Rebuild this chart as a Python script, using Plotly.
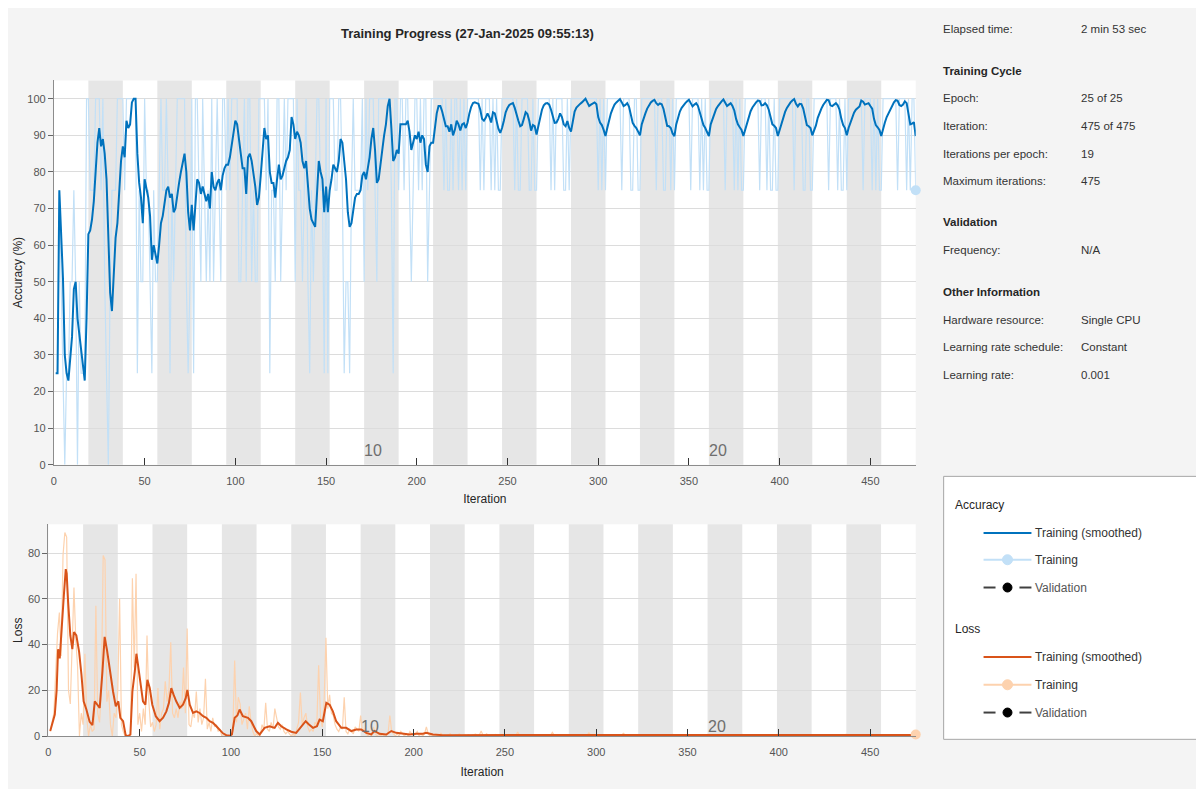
import plotly.graph_objects as go

# ---------------- data ----------------
ITER_PER_EPOCH = 19
N_EPOCHS = 25
iterations = list(range(1, ITER_PER_EPOCH * N_EPOCHS + 1))

acc_raw = [
    25, 25, 75, 50, 25, 0, 25, 25, 50, 50, 75, 50, 0, 50, 25, 25, 25, 100, 100,
    75, 75, 75, 100, 100, 100, 75, 100, 50, 25, 0, 50, 75, 75, 75, 100, 100, 100, 100,
    75, 100, 100, 100, 100, 100, 100, 25, 75, 50, 50, 100, 75, 75, 50, 25, 75, 50, 50,
    75, 100, 75, 75, 100, 75, 25, 75, 50, 75, 100, 100, 100, 100, 100, 50, 25, 50, 100,
    25, 100, 100, 75, 50, 100, 75, 50, 75, 50, 100, 50, 75, 100, 75, 50, 100, 100, 75,
    100, 75, 100, 100, 100, 100, 50, 50, 75, 100, 50, 100, 100, 50, 75, 50, 50, 100, 100,
    100, 100, 75, 100, 25, 75, 75, 50, 100, 100, 50, 75, 100, 75, 100, 100, 100, 100, 50,
    100, 75, 75, 50, 75, 100, 50, 25, 75, 50, 75, 100, 100, 75, 75, 25, 100, 25, 100,
    100, 100, 75, 75, 100, 100, 75, 25, 50, 50, 25, 75, 100, 75, 75, 75, 75, 100, 50,
    100, 75, 100, 100, 100, 75, 50, 100, 100, 100, 100, 100, 100, 100, 75, 25, 100, 100, 75,
    100, 100, 75, 100, 100, 75, 50, 75, 100, 100, 75, 100, 75, 100, 100, 50, 75, 100, 100,
    100, 100, 100, 100, 100, 75, 100, 75, 75, 100, 75, 100, 100, 75, 100, 75, 100, 75, 100,
    100, 100, 100, 100, 100, 100, 75, 100, 75, 100, 100, 100, 75, 100, 75, 100, 75, 75, 100,
    100, 100, 100, 100, 100, 100, 75, 100, 75, 75, 100, 100, 100, 100, 75, 75, 100, 75, 75,
    100, 100, 100, 100, 100, 100, 100, 75, 100, 75, 100, 100, 100, 100, 75, 75, 100, 75, 100,
    100, 100, 100, 100, 100, 100, 100, 100, 100, 100, 100, 100, 100, 100, 75, 100, 75, 100, 75,
    100, 100, 100, 100, 100, 100, 100, 100, 75, 100, 100, 100, 100, 75, 75, 100, 100, 75, 75,
    100, 100, 100, 100, 100, 100, 100, 100, 75, 100, 100, 100, 75, 75, 100, 100, 75, 100, 75,
    100, 100, 100, 100, 100, 100, 100, 100, 75, 100, 100, 100, 100, 75, 100, 75, 100, 75, 75,
    100, 100, 100, 100, 100, 100, 100, 100, 75, 100, 100, 100, 100, 75, 100, 75, 100, 75, 75,
    100, 100, 100, 100, 100, 100, 100, 100, 75, 100, 100, 100, 75, 100, 75, 75, 100, 75, 75,
    100, 100, 100, 100, 100, 100, 100, 100, 75, 100, 100, 100, 100, 75, 75, 100, 100, 75, 75,
    100, 100, 100, 100, 100, 100, 100, 100, 75, 100, 100, 100, 100, 75, 100, 75, 75, 100, 75,
    100, 100, 100, 100, 100, 100, 100, 100, 75, 100, 100, 100, 100, 75, 100, 75, 100, 75, 75,
    100, 100, 100, 100, 100, 100, 100, 100, 75, 100, 100, 100, 100, 75, 100, 75, 100, 100, 75,
]

acc_smooth = [
    25, 25, 75, 65, 51, 30, 25, 23, 28, 35, 48, 50, 40, 36, 31, 27, 23, 40, 63,
    64, 67, 72, 80, 88, 92, 87, 89, 85, 78, 65, 47, 42, 52, 62, 66, 74, 83, 87,
    84, 94, 92, 93, 99, 100, 100, 85, 77, 73, 66, 78, 75, 73, 68, 56, 60, 57, 55,
    60, 66, 68, 71, 75, 76, 73, 74, 69, 70, 74, 77, 80, 83, 85, 80, 69, 64, 71,
    64, 72, 78, 77, 74, 76, 74, 72, 74, 70, 80, 76, 75, 77, 78, 75, 79, 81, 82,
    82, 84, 87, 91, 94, 93, 89, 84, 81, 81, 74, 84, 85, 83, 80, 76, 71, 73, 79,
    86, 92, 89, 90, 80, 77, 77, 73, 78, 82, 78, 79, 81, 83, 84, 86, 95, 93, 89,
    91, 90, 88, 83, 81, 83, 77, 70, 67, 66, 65, 74, 83, 80, 78, 69, 76, 69, 75,
    78, 82, 81, 80, 83, 89, 88, 83, 78, 69, 65, 66, 70, 73, 74, 74, 75, 79, 80,
    78, 81, 84, 89, 92, 86, 77, 78, 83, 86, 90, 93, 98, 100, 92, 83, 84, 86, 85,
    93, 93, 93, 93, 94, 91, 86, 88, 90, 89, 91, 88, 90, 89, 82, 80, 87, 88, 88,
    92, 96, 98, 98, 96.5, 94.5, 92.5, 92.5, 91, 93, 90, 91.5, 94, 93, 91.3, 93, 93.3, 92, 93.5,
    96, 97.8, 98.8, 99, 98.8, 98.6, 97, 94.5, 94, 94.8, 96, 95, 93.5, 96.3, 96, 93.5, 91.8, 90.7, 92,
    94, 96.3, 97.5, 98.3, 98.6, 98.8, 97.5, 95.5, 94, 92.5, 92.8, 94.5, 96.3, 95.8, 94, 91.3, 92.8, 92.5, 90.2,
    92.5, 95, 97, 98.2, 98.7, 98.8, 98.4, 97, 95.2, 93.4, 93.5, 94.5, 96, 95, 93, 92.5, 93.9, 92, 91,
    94, 96.5, 97.6, 98.2, 98.6, 99, 99.5, 100, 99, 98, 98.4, 98.8, 99, 98.5, 95, 93.5, 92.8, 91.5, 89.8,
    92, 94.5, 96, 97.3, 98.4, 99, 99.4, 99.9, 99, 98, 98.3, 98.8, 97.8, 95.5, 93.4, 92.6, 92, 91, 90,
    93, 94.8, 96, 97.3, 98.4, 99, 99.4, 99.7, 98.8, 98.3, 98.7, 98.5, 97.2, 95, 92.6, 92.5, 92, 90.5, 89.8,
    93, 95, 96.5, 97.5, 98.3, 98.8, 99.3, 99.7, 98.8, 97.9, 98.4, 98.8, 98, 96, 94, 92.8, 92, 91, 89.8,
    93, 94.5, 96, 97.2, 98, 98.8, 99.3, 99.8, 99, 98, 98.4, 98.8, 98, 96.8, 94.5, 93, 92.2, 91.5, 89.8,
    91.5, 93.5, 95.5, 96.6, 97.6, 98.5, 99, 99.5, 99.4, 98.2, 98.3, 98.8, 98.2, 97, 95, 93, 92.6, 92, 89.8,
    91.5, 93, 95, 96.4, 97.5, 98.4, 99, 99.5, 99.9, 98.6, 97.9, 98.6, 98.5, 97.3, 95, 92.8, 92.5, 92, 90,
    91.3, 92.7, 94.8, 96.2, 97.3, 98.3, 99, 99.7, 99.6, 98.2, 98, 98.4, 98.8, 98.2, 97, 94.5, 92.8, 92, 90,
    92, 93.4, 95, 96.2, 97, 97.5, 97.9, 99.5, 99.2, 98.4, 98.6, 98.8, 98, 97.3, 94.5, 92.8, 92.2, 91.5, 89.8,
    92, 93.5, 95, 96.1, 97.3, 98.4, 99, 99.6, 99.5, 98.3, 98, 98.4, 99.3, 98.8, 96, 93, 93.2, 93.6, 89.8,
]

loss_raw = [
    2, 6, 10, 28, 45, 54, 35, 79, 89, 87, 20, 14, 40, 65, 42, 30, 0, 10, 5,
    36, 8, 0, 5, 2, 3, 57, 10, 6, 20, 79, 77, 15, 20, 5, 0, 10, 8, 20,
    60, 5, 2, 0, 0, 0, 0, 69, 30, 71, 5, 10, 2, 12, 5, 44, 15, 4, 6,
    2, 5, 21, 3, 10, 12, 24, 15, 20, 41, 10, 8, 12, 8, 15, 12, 30, 10, 47,
    5, 4, 10, 8, 19.5, 6, 12, 5, 8, 25, 3, 6, 2, 8, 4, 5, 2, 3, 0,
    0, 0, 0, 0, 1, 2, 33, 6, 17, 14, 5, 8, 10, 3, 13, 6, 2, 0, 1,
    0, 0, 5, 3, 14.5, 3, 2, 6, 3, 12, 8, 4, 3, 5, 2, 1, 2, 1, 0,
    1, 0, 3, 6, 19, 5, 8, 10, 4, 2, 3, 2, 6, 5, 31, 8, 4, 15, 43,
    12, 18, 10, 9, 5, 3, 2, 4, 3, 17, 2, 1, 3, 2, 1, 4, 3, 2, 9,
    2, 3, 1, 0, 1, 0, 4, 1, 0, 1, 0, 1, 0, 0, 1, 9, 2, 1, 0,
    1, 0, 2, 1, 0, 1, 0, 2, 1, 0, 1, 2, 0, 1, 0, 1, 4, 1, 0,
    0.5, 0.3, 0.8, 0.2, 0.4, 1.2, 0.3, 0.6, 0.2, 0.5, 1.0, 0.3, 0.2, 0.6, 0.4, 0.9, 0.3, 0.2, 0.5,
    0.3, 0.6, 0.2, 0.4, 0.3, 0.8, 0.2, 0.5, 2.2, 0.4, 0.3, 1.0, 0.2, 0.4, 0.6, 0.3, 0.7, 0.2, 0.4,
    0.5, 0.2, 0.3, 0.6, 0.2, 0.4, 0.3, 0.5, 0.2, 1.8, 0.3, 0.4, 0.2, 0.6, 0.3, 0.2, 0.5, 0.3, 0.4,
    0.2, 0.3, 0.5, 0.2, 0.4, 0.3, 0.6, 0.2, 0.3, 1.6, 0.4, 0.2, 0.5, 0.3, 0.2, 0.4, 0.6, 0.3, 0.2,
    0.4, 0.2, 0.3, 0.5, 0.2, 0.3, 0.4, 0.2, 0.6, 0.3, 1.4, 0.2, 0.4, 0.3, 0.5, 0.2, 0.3, 0.6, 0.4,
    0.2, 0.3, 0.4, 0.2, 0.5, 0.3, 0.2, 0.4, 0.3, 0.6, 1.2, 0.3, 0.2, 0.4, 0.5, 0.3, 0.2, 0.4, 0.6,
    0.3, 0.2, 0.4, 0.3, 0.2, 0.5, 0.3, 0.2, 0.4, 0.3, 0.2, 0.5, 0.4, 0.3, 0.6, 0.2, 0.4, 0.5, 0.7,
    0.3, 0.2, 0.4, 0.3, 0.2, 0.3, 0.4, 0.2, 0.3, 0.5, 0.3, 0.2, 0.4, 0.3, 0.6, 0.5, 0.3, 0.4, 0.7,
    0.3, 0.2, 0.3, 0.2, 0.4, 0.2, 0.3, 0.2, 0.3, 0.4, 0.3, 0.2, 0.4, 0.3, 0.5, 0.6, 0.3, 0.5, 0.7,
    0.3, 0.2, 0.3, 0.2, 0.3, 0.2, 0.2, 0.3, 0.4, 0.2, 0.3, 0.4, 0.3, 0.5, 0.4, 0.6, 0.4, 0.5, 0.7,
    0.2, 0.3, 0.2, 0.2, 0.3, 0.2, 0.2, 0.3, 0.3, 0.4, 0.3, 0.2, 0.4, 0.5, 0.6, 0.3, 0.5, 0.6, 0.6,
    0.3, 0.2, 0.2, 0.3, 0.2, 0.2, 0.3, 0.2, 0.4, 0.3, 0.3, 0.4, 0.3, 0.5, 0.5, 0.4, 0.6, 0.5, 0.7,
    0.2, 0.3, 0.2, 0.2, 0.2, 0.3, 0.2, 0.3, 0.3, 0.4, 0.2, 0.3, 0.5, 0.4, 0.6, 0.5, 0.4, 0.6, 0.6,
    0.3, 0.2, 0.3, 0.2, 0.2, 0.3, 0.2, 0.2, 0.3, 0.3, 0.4, 0.3, 0.4, 0.5, 0.4, 0.6, 0.5, 0.6, 0.7,
]

loss_smooth_iter = [
    1, 2, 3.5, 4.5, 5.3, 6.2, 7, 7.7, 8.5, 9.5, 10, 10.8, 12, 13.1, 14, 15.3, 16.8, 18.1, 19.3, 20.8,
    22.6, 24.1, 25.4, 26.8, 28.1, 29.6, 30.8, 32.1, 33.6, 35.4, 36.9, 38.3, 39.4, 40.9, 42.3, 43.6, 44.9, 46, 47.3, 48.2,
    49.1, 50.4, 51.8, 53.1, 54.2, 55.5, 56.9, 58.8, 60.9, 62.8, 64.6, 66, 67.3, 68.6, 70, 71.9, 73.7, 75.2, 76.1, 77.4,
    79.2, 81, 82.8, 84.7, 86.5, 88.3, 90.1, 92, 93.8, 95.6, 97.4, 99.3, 100.5, 102, 103.5, 104.7, 106.5, 109.3, 111.1, 113.8,
    115.7, 118.4, 121.1, 123.9, 125.7, 127.5, 130.3, 133, 135.7, 138.5, 140.9, 142.7, 144.9, 147.1, 148.5, 150.3, 152.2, 154, 155.8, 157.6,
    160.4, 163.1, 165.9, 168.6, 171.3, 174.1, 176.8, 178.6, 181.4, 185, 187.8, 190.5, 194.1, 197.8, 201.4, 205.1, 206.9, 210.6, 216, 221.5,
    230, 238, 245, 252, 259, 266, 272, 278, 285, 292, 298, 305, 312, 317, 325, 335, 342, 350, 361, 370,
    380, 390, 399, 410, 418, 428, 437, 446, 456, 465, 475,
]
loss_smooth_val = [
    2.2, 5, 9.4, 20, 38, 34, 45, 54, 62, 73, 71, 58.6, 44, 38, 45.5, 44, 36.9, 26.8, 15.2, 11.6,
    6.2, 4.8, 15.2, 13.7, 12.3, 28.2, 43.4, 37.6, 28.2, 19.5, 13, 15.2, 8, 6.5, 0.4, 0, 0.7, 19.5, 28.2, 36,
    31, 22.4, 15.2, 13.7, 24.6, 21, 13.7, 8.7, 6.5, 8, 10.8, 14.5, 21, 18, 15.2, 12.3, 13.7, 16.6, 20.2, 13.7,
    10.1, 10.8, 10.1, 8.7, 8, 6.5, 5.8, 4.3, 2.9, 1.2, 0.4, 0.1, 0.7, 8, 9, 11.6, 8.7, 8, 6.5, 2.2,
    0.7, 3.6, 4.3, 3.6, 5.8, 4.3, 2.9, 1.9, 1.4, 4.3, 6.5, 5.1, 3.6, 4.3, 7.2, 6.5, 14.5, 13.7, 10.8, 6.5,
    3.6, 3.6, 2.2, 2.9, 2.9, 1.4, 0.7, 2.2, 1, 0.7, 2.2, 1.4, 1, 0.7, 1, 1, 1.4, 0.7, 0.4, 0.4,
    0.35, 0.6, 0.4, 0.35, 0.55, 0.35, 0.3, 0.5, 0.35, 0.3, 0.45, 0.3, 0.3, 0.45, 0.3, 0.3, 0.45, 0.3, 0.4, 0.3,
    0.45, 0.3, 0.45, 0.3, 0.45, 0.3, 0.45, 0.3, 0.45, 0.3, 0.5,
]

acc_yticks = list(range(0, 101, 10))
loss_yticks = [0, 20, 40, 60, 80]
x_ticks = list(range(0, 451, 50))
epoch_marks = [10, 20]

info_rows = [
    ("Elapsed time:", "2 min 53 sec", False, 29),
    ("Training Cycle", "", True, 71),
    ("Epoch:", "25 of 25", False, 99),
    ("Iteration:", "475 of 475", False, 127),
    ("Iterations per epoch:", "19", False, 155),
    ("Maximum iterations:", "475", False, 182),
    ("Validation", "", True, 224),
    ("Frequency:", "N/A", False, 252),
    ("Other Information", "", True, 294),
    ("Hardware resource:", "Single CPU", False, 322),
    ("Learning rate schedule:", "Constant", False, 350),
    ("Learning rate:", "0.001", False, 378),
]

# ---------------- colours / fonts ----------------
BLUE = "#0072BD"
LIGHT_BLUE = "#c2e0f7"
ORANGE = "#D95319"
LIGHT_ORANGE = "#fdd2ae"
BAND = "#e6e6e6"
PANEL = "#f4f4f4"
FONT = "Liberation Sans, Arial, Helvetica, sans-serif"

# ---------------- pixel helpers (page px -> paper) ----------------
W, H, OFF = 1196, 781, 8


def fx(p):
    return (p - OFF) / W


def fy(p):
    return 1 - (p - OFF) / H


fig = go.Figure()

# accuracy traces
fig.add_trace(go.Scatter(x=iterations, y=acc_raw, mode="lines",
                         line=dict(color=LIGHT_BLUE, width=1.2), xaxis="x", yaxis="y",
                         name="Training", showlegend=False, hoverinfo="skip"))
fig.add_trace(go.Scatter(x=iterations, y=acc_smooth, mode="lines",
                         line=dict(color=BLUE, width=2), xaxis="x", yaxis="y",
                         name="Training (smoothed)", showlegend=False))
fig.add_trace(go.Scatter(x=[iterations[-1]], y=[acc_raw[-1]], mode="markers",
                         marker=dict(color=LIGHT_BLUE, size=10), xaxis="x", yaxis="y",
                         showlegend=False, cliponaxis=False))

# loss traces
fig.add_trace(go.Scatter(x=iterations, y=loss_raw, mode="lines",
                         line=dict(color=LIGHT_ORANGE, width=1.2), xaxis="x2", yaxis="y2",
                         name="Training", showlegend=False, hoverinfo="skip"))
fig.add_trace(go.Scatter(x=loss_smooth_iter, y=loss_smooth_val, mode="lines",
                         line=dict(color=ORANGE, width=2), xaxis="x2", yaxis="y2",
                         name="Training (smoothed)", showlegend=False))
fig.add_trace(go.Scatter(x=[iterations[-1]], y=[loss_raw[-1]], mode="markers",
                         marker=dict(color=LIGHT_ORANGE, size=10), xaxis="x2", yaxis="y2",
                         showlegend=False, cliponaxis=False))

shapes = []
# alternating epoch bands
for e in range(2, N_EPOCHS + 1, 2):
    for xr, yr in (("x", "y domain"), ("x2", "y2 domain")):
        shapes.append(dict(type="rect", xref=xr, yref=yr,
                           x0=(e - 1) * ITER_PER_EPOCH, x1=e * ITER_PER_EPOCH, y0=0, y1=1,
                           fillcolor=BAND, line=dict(width=0), layer="below"))

annotations = []
# epoch labels
for e in epoch_marks:
    annotations.append(dict(x=(e - 1) * ITER_PER_EPOCH, y=5, xref="x", yref="y",
                            text=str(e), showarrow=False, xanchor="left", yanchor="middle",
                            xshift=-2, yshift=-4, font=dict(family=FONT, size=16, color="#6e6e6e")))
    annotations.append(dict(x=(e - 1) * ITER_PER_EPOCH, y=6.3, xref="x2", yref="y2",
                            text=str(e), showarrow=False, xanchor="left", yanchor="middle",
                            xshift=-2, yshift=-5, font=dict(family=FONT, size=16, color="#6e6e6e")))

# title
annotations.append(dict(x=fx(466), y=fy(33), xref="paper", yref="paper",
                        text="<b>Training Progress (27-Jan-2025 09:55:13)</b>", showarrow=False,
                        xanchor="center", yanchor="middle", yshift=-1,
                        font=dict(family=FONT, size=13, color="#262626")))

# info panel
for lab, val, head, yc in info_rows:
    annotations.append(dict(x=fx(943), y=fy(yc), xref="paper", yref="paper",
                            text=(f"<b>{lab}</b>" if head else lab), showarrow=False,
                            xanchor="left", yanchor="middle", xshift=-3,
                            font=dict(family=FONT, size=11.5,
                                      color="#262626" if head else "#333333")))
    if val:
        annotations.append(dict(x=fx(1082), y=fy(yc), xref="paper", yref="paper",
                                text=val, showarrow=False, xanchor="left", yanchor="middle",
                                xshift=-3, font=dict(family=FONT, size=11.5, color="#333333")))

# legend panel (drawn)
shapes.append(dict(type="rect", xref="paper", yref="paper",
                   x0=fx(943), x1=fx(1215), y0=fy(745), y1=fy(480),
                   fillcolor="white", line=dict(color="#a6a6a6", width=1)))

legend_groups = [
    ("Accuracy", 509, [(537, "Training (smoothed)", BLUE, "solid"),
                        (564, "Training", LIGHT_BLUE, "marker"),
                        (592, "Validation", "#404040", "dash")]),
    ("Loss", 634, [(662, "Training (smoothed)", ORANGE, "solid"),
                   (690, "Training", LIGHT_ORANGE, "marker"),
                   (718, "Validation", "#404040", "dash")]),
]
for gname, gy, items in legend_groups:
    annotations.append(dict(x=fx(955), y=fy(gy), xref="paper", yref="paper", text=gname,
                            showarrow=False, xanchor="left", yanchor="middle", xshift=-3,
                            font=dict(family=FONT, size=12, color="#262626")))
    for iy, label, col, kind in items:
        if kind == "dash":
            for a, b in ((983, 995), (1019, 1031)):
                shapes.append(dict(type="line", xref="paper", yref="paper",
                                   x0=fx(a), x1=fx(b), y0=fy(iy), y1=fy(iy),
                                   line=dict(color=col, width=2)))
            shapes.append(dict(type="circle", xref="paper", yref="paper",
                               xsizemode="pixel", ysizemode="pixel",
                               xanchor=fx(1007), yanchor=fy(iy), x0=-4.5, x1=4.5, y0=-4.5, y1=4.5,
                               fillcolor="#000000", line=dict(color="#000000", width=1)))
        else:
            shapes.append(dict(type="line", xref="paper", yref="paper",
                               x0=fx(983), x1=fx(1031), y0=fy(iy), y1=fy(iy),
                               line=dict(color=col, width=2)))
            if kind == "marker":
                shapes.append(dict(type="circle", xref="paper", yref="paper",
                                   xsizemode="pixel", ysizemode="pixel",
                                   xanchor=fx(1007), yanchor=fy(iy), x0=-5, x1=5, y0=-5, y1=5,
                                   fillcolor=col, line=dict(color=col, width=1)))
        annotations.append(dict(x=fx(1035), y=fy(iy), xref="paper", yref="paper", text=label,
                                showarrow=False, xanchor="left", yanchor="middle", xshift=-2,
                                font=dict(family=FONT, size=12,
                                          color="#555555" if kind == "dash" else "#333333")))

tick_font = dict(family=FONT, size=11, color="#555555")
title_font = dict(family=FONT, size=12, color="#262626")

common_x = dict(range=[0, 475], tickvals=x_ticks, ticks="inside", ticklen=7, tickcolor="#333333",
                showline=True, linecolor="#8c8c8c", linewidth=1, showgrid=False, zeroline=False,
                tickfont=tick_font, fixedrange=True, ticklabelstandoff=6)
common_y = dict(ticks="outside", ticklen=5, tickcolor="#666666", showline=True,
                linecolor="#8c8c8c", linewidth=1, showgrid=True, gridcolor="#dcdcdc",
                zeroline=False, tickfont=tick_font, fixedrange=True)

fig.update_layout(
    width=W, height=H,
    margin=dict(l=0, r=0, t=0, b=0),
    paper_bgcolor=PANEL, plot_bgcolor="white",
    showlegend=False,
    xaxis=dict(domain=[fx(51), fx(915)], anchor="y",
               title=dict(text="Iteration", font=title_font, standoff=8), **common_x),
    yaxis=dict(domain=[fy(468.3), fy(81)], anchor="x", range=[0, 105], tickvals=acc_yticks,
               title=dict(text="Accuracy (%)", font=title_font, standoff=2), **common_y),
    xaxis2=dict(domain=[fx(45.5), fx(915)], anchor="y2",
                title=dict(text="Iteration", font=title_font, standoff=10), **common_x),
    yaxis2=dict(domain=[fy(741.7), fy(528.3)], anchor="x2", range=[0, 92.6], tickvals=loss_yticks,
                title=dict(text="Loss", font=title_font, standoff=2), **common_y),
    shapes=shapes,
    annotations=annotations,
)

fig.write_html("out.html")
